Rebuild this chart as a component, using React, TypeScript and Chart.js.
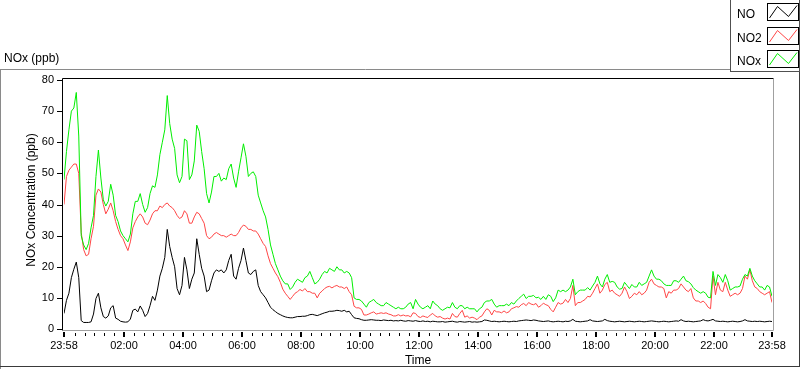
import React, { useEffect, useRef } from "react";
import { Chart, registerables } from "chart.js";

Chart.register(...registerables);

// ---------------- DATA ----------------
const SERIES_LABELS = ["NO", "NO2", "NOx"];
const SERIES_COLORS = ["#000000", "#ff4545", "#00ee00"];
const SAMPLE_STEP_MIN = 5; // one sample every 5 minutes, starting 23:58
const X_MAX_MIN = 1440;
const X_TICK_MIN = [0, 122, 242, 362, 482, 602, 722, 842, 962, 1082, 1202, 1322, 1440];
const X_TICK_LABELS = ["23:58", "02:00", "04:00", "06:00", "08:00", "10:00", "12:00", "14:00", "16:00", "18:00", "20:00", "22:00", "23:58"];
const Y_MIN = 0;
const Y_MAX = 80;
const Y_STEP = 10;
const TITLE = "NOx (ppb)";
const Y_TITLE = "NOx Concentration (ppb)";
const X_TITLE = "Time";

const NO = [
  5, 9.2, 11.5, 16.5, 19.2, 21.5, 16.5, 2.7, 2.1, 2.1,
  2.1, 2.3, 4.8, 9.8, 11.5, 6.8, 4, 3.5, 4.2, 6.8,
  7.5, 3.5, 3.1, 2.5, 2.3, 2.2, 2.3, 3.2, 6, 6.4,
  5.5, 7.4, 6, 4, 5, 7.5, 10.5, 9.2, 12.5, 17,
  19.5, 23, 32, 26.5, 23, 20, 13, 11, 14, 23,
  19, 13, 16, 18, 29, 24, 19.5, 17, 12, 12.5,
  15.5, 18, 19, 18.5, 19, 18, 19, 22, 24, 17,
  16, 19.5, 22, 26, 22, 18, 17.5, 18.5, 19, 14,
  12, 11, 10, 8.5, 7, 6.2, 5.6, 5, 4.6, 4.2,
  3.9, 3.7, 3.6, 3.6, 3.8, 4, 4, 4.1, 4.1, 4.3,
  4.6, 4.7, 4.5, 4.3, 4.6, 4.9, 5.2, 5.4, 5.7, 5.7,
  5.8, 6, 5.9, 5.7, 6, 5.5, 5.7, 4.6, 3.6, 3.4,
  3.3, 3, 2.8, 2.8, 2.9, 3, 2.9, 2.8, 2.8, 2.7,
  2.9, 2.8, 2.7, 2.8, 2.6, 2.7, 2.6, 2.8, 2.6, 2.5,
  2.7, 2.6, 2.5, 2.7, 2.5, 2.4, 2.6, 2.4, 2.5, 2.3,
  2.5, 2.4, 2.3, 2.3, 2.4, 2.2, 2.3, 2.4, 2.5, 2.3,
  2.2, 2.4, 2.3, 2.2, 2.3, 2.4, 2.2, 2.3, 2.2, 2.3,
  2.4, 2.9, 2.8, 2.6, 2.4, 2.5, 2.4, 2.3, 2.4, 2.5,
  2.4, 2.3, 2.4, 2.5, 2.4, 2.6, 2.7, 2.8, 2.9, 2.8,
  2.7, 2.9, 2.8, 2.6, 2.5, 2.4, 2.5, 2.6, 2.4, 2.3,
  2.4, 2.5, 2.4, 2.3, 2.5, 2.4, 2.6, 3.1, 2.5, 2.4,
  2.3, 2.4, 2.5, 2.6, 3.0, 2.6, 2.5, 2.4, 2.5, 2.6,
  3.1, 2.7, 2.5, 2.4, 2.3, 2.4, 2.5, 2.4, 2.3, 2.4,
  2.5, 2.4, 2.3, 2.4, 2.5, 2.4, 2.3, 2.4, 2.5, 2.6,
  2.5, 2.4, 2.3, 2.4, 2.5, 2.4, 2.3, 2.4, 2.5, 2.6,
  2.5, 3.0, 2.6, 2.4, 2.5, 2.4, 2.3, 2.4, 2.5, 2.6,
  3.0, 2.7, 2.6, 2.8, 3.1, 2.6, 2.5, 2.4, 2.5, 2.4,
  2.3, 2.4, 2.5, 2.4, 2.3, 2.4, 2.6, 3.0, 2.6, 2.5,
  2.4, 2.5, 2.4, 2.5, 2.4, 2.3, 2.4, 2.5, 2.4,
];

const NO2 = [
  40, 49, 51, 52, 53, 53, 50, 31, 25.5, 23.5,
  24, 29, 33, 43, 45, 44, 40, 37, 38.5, 40.5,
  38, 34.5, 32, 30, 29, 27, 25.2, 28, 32.5, 34.5,
  36, 37, 36, 34, 33.5, 35, 37, 38, 38, 39.5,
  39, 40, 40.5, 39.5, 39, 38, 36.5, 35.5, 36, 38,
  37, 34, 34, 36, 37.5, 37, 35.5, 34, 30, 29,
  29.5, 30.5, 31, 30.5, 30, 30, 29.5, 30, 30.5, 30,
  30, 31, 32.5, 33.4, 33, 32, 32, 31.5, 31.5, 30.5,
  29, 27.5, 26.5, 23.5, 21, 19.5, 18, 16.8, 15, 12.8,
  11.5, 10.5, 9.5, 10.5, 11.5, 12, 12.7, 12.2, 13, 12,
  12, 11.5, 11.5, 10, 11.5, 12.2, 13, 13.5, 13.7, 13.2,
  13.7, 14, 13.5, 13.5, 13, 13.5, 12, 11, 7.3, 6.8,
  6.8, 6.3, 4.5, 4.5, 4.8, 5.2, 5.5, 4.8, 5, 5.2,
  5, 5.2, 4.8, 4.6, 4.2, 4.2, 4.6, 4.2, 4.5, 4.2,
  4.3, 3.9, 5.2, 5, 4, 3.7, 4.2, 3.9, 3.7, 4.5,
  5, 4.2, 3.8, 4, 3.5, 3.2, 3.5, 3.2, 5, 4,
  3.8, 5, 6, 3.8, 4.2, 3.5, 3.8, 3.5, 3, 3.8,
  4.2, 5.5, 6.5, 6, 4.5, 6, 5.5, 5.5, 5.2, 5.8,
  5.2, 5.5, 6.5, 6.8, 7.2, 7, 7.8, 8.2, 7.5, 8.5,
  8, 7.8, 8.2, 7, 7.5, 8.3, 7.8, 7.5, 6.3, 5.5,
  7, 8.5, 8, 8.3, 9.5, 8.5, 9.8, 14, 7.5, 8.5,
  8.5, 9, 9.5, 10.5, 10.3, 11.5, 13, 14.5, 11.5, 12.5,
  14.3, 15, 12, 12.5, 11.5, 11, 10.5, 11.5, 13.5, 12,
  9.8, 10.5, 11.5, 11, 12, 11, 11.5, 12.5, 15, 16,
  14.5, 14, 13.5, 13.5, 13, 10, 12, 11.5, 12.5, 12.5,
  13, 14.5, 13.5, 12.5, 12, 13, 10, 9, 9, 8.5,
  9, 8.2, 7, 6.5, 17, 11, 15, 12.5, 12, 15,
  12.5, 10.5, 11, 11.5, 11, 11.5, 13, 17, 16, 19,
  15.5, 13.5, 13, 12, 11.5, 11, 11.5, 12, 8.5,
];

const NOX = [
  48, 57, 64, 70, 71, 76, 62, 30, 27, 25.5,
  27.5, 32.5, 36.5, 49, 57.5, 48.5, 41.5, 39.5, 41, 46.5,
  43, 36.5, 34.5, 31.5, 30, 29, 28, 30.5, 37, 41,
  41, 43.5, 40, 37.5, 39, 43.5, 46, 45.5, 49.5, 56,
  60, 64, 75, 66, 61, 58, 49.5, 47, 49, 61,
  60.5, 48, 49.5, 54, 65.5, 63.5, 57, 51.5, 43.5, 40.5,
  44, 49, 49, 50, 47.5, 48.5, 48, 51.5, 53, 48.5,
  45.5, 50.5, 55, 59.5, 55.5, 49, 50, 50.5, 49, 43,
  40.5, 38, 36, 32, 27, 24, 21, 19, 17, 15.5,
  14.5, 14.5, 12.7, 13.5, 15, 16, 15.5, 15, 16.5, 17,
  18.5, 16.5, 14.5, 15, 16, 17.5, 18.5, 18, 19.5, 19,
  18.5, 20, 19, 19, 18, 18.5, 18, 16.5, 10, 9.5,
  9.5, 9, 8, 7, 8.5, 9, 9.5, 8.5, 8, 7.5,
  7.5, 8.5, 8, 7.5, 7, 6.5, 7, 6.5, 6.5, 7,
  8, 8.5, 6.5, 9.5, 8, 7, 6.5, 7, 7.5, 6.5,
  9, 8, 7.5, 6.5, 6, 6.5, 7, 6.8, 8.5, 7,
  6.5, 7.5, 7.5, 6.5, 7, 6.5, 6.5, 6.5, 5.5, 6.5,
  7, 8.5, 9, 9, 9.5, 8, 7, 7.5, 7.5, 7.5,
  8, 7.5, 8.5, 8, 9, 9.8, 10.5, 11.2, 9.8, 10.5,
  10.5, 10.8, 10, 10.2, 9.5, 10.5, 9.5, 11, 10.5, 8.8,
  10, 12.5, 12, 12.5, 12, 12.5, 13.5, 16, 11, 12,
  12.5, 12.5, 12.5, 13.3, 12.5, 13.8, 15, 17, 14.5, 13.5,
  16, 17.5, 15, 15.3, 15, 13.5, 12.8, 13, 15, 14,
  13, 14.3, 13.5, 13.5, 15, 14, 14.5, 15, 17, 19,
  17, 16, 16, 15.5, 14.5, 14, 14, 14, 15.5, 15.5,
  15, 16, 17, 15.5, 15.2, 14.5, 13.3, 12.5, 12, 11.5,
  12, 11.5, 10.2, 10, 18.5, 14, 17.5, 16.5, 15, 17.5,
  15.5, 12.5, 13, 13.5, 13.5, 13.8, 16, 17.5, 17, 19.5,
  17, 15.5, 14.5, 13.5, 13.5, 12.5, 14, 13.5, 10.5,
];

const SERIES = [NO, NO2, NOX];

// ---------------- DRAWING ----------------
const FONT = "'Liberation Sans', Arial, sans-serif";

const decorPlugin = {
  id: "labviewDecor",
  afterDraw(chart: any) {
    const ctx: CanvasRenderingContext2D = chart.ctx;
    const area = chart.chartArea;
    const xs = chart.scales.x;
    const ys = chart.scales.y;
    ctx.save();

    // outer frame
    ctx.lineWidth = 1;
    ctx.strokeStyle = "#8a8a8a";
    ctx.beginPath();
    ctx.moveTo(0, 69.5);
    ctx.lineTo(731, 69.5);
    ctx.moveTo(0.5, 69);
    ctx.lineTo(0.5, 369);
    ctx.stroke();
    ctx.strokeStyle = "#3a3a3a";
    ctx.beginPath();
    ctx.moveTo(0, 366.5);
    ctx.lineTo(800, 366.5);
    ctx.moveTo(799.5, 72);
    ctx.lineTo(799.5, 367);
    ctx.stroke();

    // title
    ctx.fillStyle = "#000";
    ctx.font = `12px ${FONT}`;
    ctx.textAlign = "left";
    ctx.textBaseline = "alphabetic";
    ctx.fillText(TITLE, 4, 62);

    // legend frame
    ctx.strokeStyle = "#505050";
    ctx.beginPath();
    ctx.moveTo(730.5, 0);
    ctx.lineTo(730.5, 72);
    ctx.moveTo(730, 71.5);
    ctx.lineTo(800, 71.5);
    ctx.moveTo(799.5, 0);
    ctx.lineTo(799.5, 72);
    ctx.stroke();

    SERIES_LABELS.forEach((lab, k) => {
      const top = Math.round(3 + 23.5 * k);
      ctx.fillStyle = "#000";
      ctx.font = `12px ${FONT}`;
      ctx.textAlign = "left";
      ctx.textBaseline = "alphabetic";
      ctx.fillText(lab, 737, top + 15);
      ctx.strokeStyle = "#000";
      ctx.lineWidth = 1;
      ctx.strokeRect(767.5, top + 0.5, 31, 17);
      ctx.strokeStyle = SERIES_COLORS[k];
      ctx.beginPath();
      ctx.moveTo(769.5, top + 15);
      ctx.lineTo(777.5, top + 3.5);
      ctx.lineTo(788.5, top + 13.5);
      ctx.lineTo(797, top + 2.5);
      ctx.stroke();
    });

    // plot border (LabVIEW-like inset)
    const L = 62.5, T = 78.5, R = 773.5, B = 330.5;
    ctx.lineWidth = 1;
    ctx.strokeStyle = "#000";
    ctx.beginPath();
    ctx.moveTo(L, B);
    ctx.lineTo(L, T);
    ctx.lineTo(R, T);
    ctx.stroke();
    ctx.strokeStyle = "#a0a0a0";
    ctx.beginPath();
    ctx.moveTo(L + 0.5, B);
    ctx.lineTo(R, B);
    ctx.lineTo(R, T + 0.5);
    ctx.stroke();

    // y tick marks
    ctx.fillStyle = "#000";
    for (let v = Y_MIN; v <= Y_MAX; v += Y_STEP) {
      const y = Math.round(ys.getPixelForValue(v));
      ctx.fillRect(57, y, 5, 1);
    }

    // x tick marks: majors + minors every 20 clock minutes
    X_TICK_MIN.forEach((m) => {
      const x = Math.round(xs.getPixelForValue(m));
      ctx.fillRect(x - 1, 332, 2, 5);
    });
    for (let m = 22; m < X_MAX_MIN; m += 20) {
      if ((m - 2) % 120 === 0) continue;
      const x = Math.round(xs.getPixelForValue(m));
      ctx.fillRect(x, 333, 1, 3);
    }

    // axis titles
    ctx.fillStyle = "#000";
    ctx.font = `12px ${FONT}`;
    ctx.textAlign = "center";
    ctx.textBaseline = "middle";
    ctx.fillText(X_TITLE, (area.left + area.right) / 2, 361);

    ctx.save();
    ctx.translate(35, 200);
    ctx.rotate(-Math.PI / 2);
    ctx.textAlign = "center";
    ctx.textBaseline = "alphabetic";
    ctx.fillText(Y_TITLE, 0, 0);
    ctx.restore();

    ctx.restore();
  },
};

export default function App() {
  const ref = useRef<HTMLCanvasElement>(null);

  useEffect(() => {
    const canvas = ref.current;
    if (!canvas) return;
    const datasets = SERIES.map((vals, k) => ({
      label: SERIES_LABELS[k],
      data: vals.map((v, i) => ({ x: i * SAMPLE_STEP_MIN, y: v })),
      borderColor: SERIES_COLORS[k],
      backgroundColor: SERIES_COLORS[k],
      borderWidth: 1,
      pointRadius: 0,
      tension: 0,
      fill: false,
      order: 2 - k,
    }));

    const chart = new Chart(canvas, {
      type: "line",
      data: { datasets },
      options: {
        animation: false,
        responsive: false,
        devicePixelRatio: 1,
        layout: { padding: { top: 80, right: 28, bottom: 0, left: 0 } },
        plugins: {
          legend: { display: false },
          tooltip: { enabled: false },
          title: { display: false },
        },
        scales: {
          x: {
            type: "linear",
            min: 0,
            max: X_MAX_MIN,
            grid: { display: false, drawTicks: false },
            border: { display: false },
            afterBuildTicks: (axis: any) => {
              axis.ticks = X_TICK_MIN.map((v) => ({ value: v }));
            },
            afterFit: (s: any) => {
              s.height = 40;
            },
            ticks: {
              autoSkip: false,
              maxRotation: 0,
              minRotation: 0,
              padding: 10,
              color: "#000",
              font: { family: FONT, size: 11 },
              callback: (value: any) => {
                const idx = X_TICK_MIN.indexOf(Number(value));
                return idx >= 0 ? X_TICK_LABELS[idx] : "";
              },
            },
          },
          y: {
            type: "linear",
            min: Y_MIN,
            max: Y_MAX,
            grid: { display: false, drawTicks: false },
            border: { display: false },
            afterFit: (s: any) => {
              s.width = 64;
            },
            ticks: {
              stepSize: Y_STEP,
              padding: 10,
              color: "#000",
              font: { family: FONT, size: 11 },
            },
          },
        },
      },
      plugins: [decorPlugin],
    } as any);

    return () => chart.destroy();
  }, []);

  return (
    <div style={{ position: "absolute", left: 0, top: 0, width: 800, height: 369, background: "#fff", overflow: "hidden" }}>
      <canvas ref={ref} width={800} height={369} style={{ display: "block", width: 800, height: 369 }} />
    </div>
  );
}
